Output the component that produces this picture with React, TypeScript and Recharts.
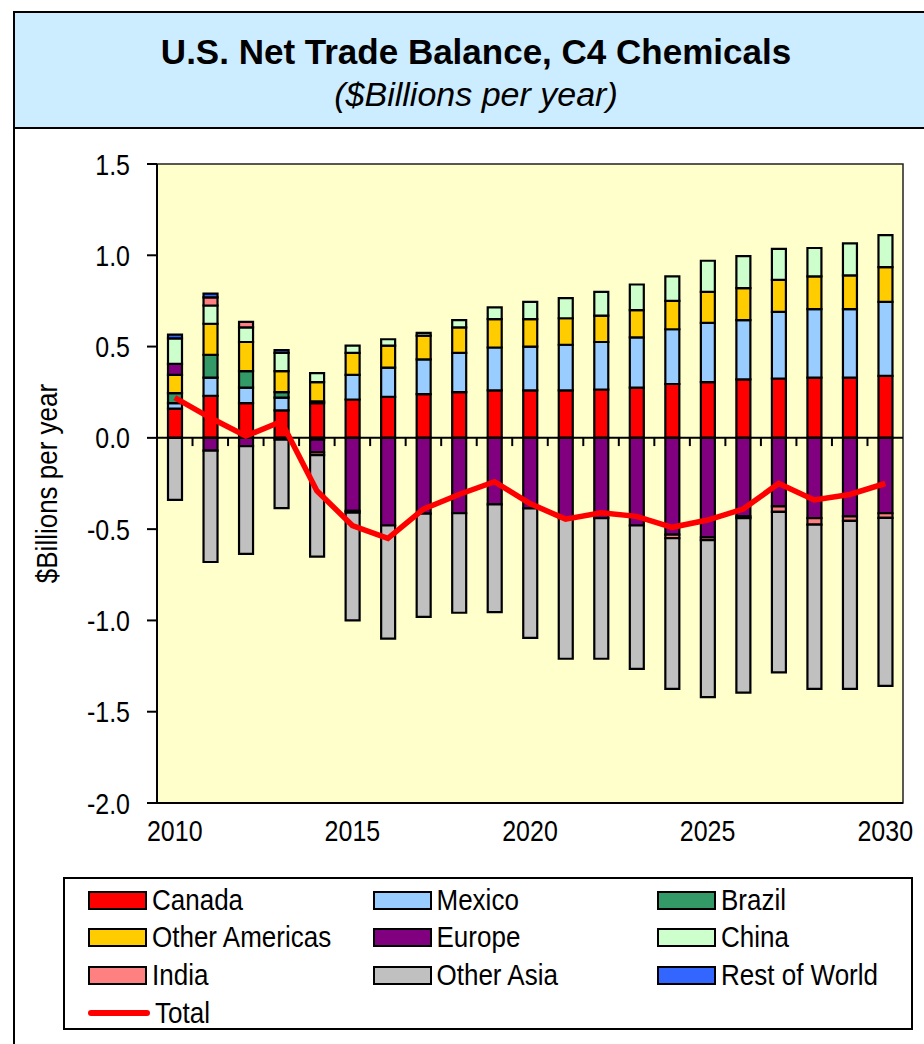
import React from "react";
import {
  ComposedChart,
  Bar,
  Line,
  XAxis,
  YAxis,
  ReferenceLine,
  ReferenceArea,
} from "recharts";

const FONT = "'Liberation Sans', Arial, sans-serif";
const STRETCH = 1.17;

const years = [
  2010, 2011, 2012, 2013, 2014, 2015, 2016, 2017, 2018, 2019, 2020, 2021, 2022,
  2023, 2024, 2025, 2026, 2027, 2028, 2029, 2030,
];
const yearTicks = [2010, 2015, 2020, 2025, 2030];
const valueTicks = [1.5, 1.0, 0.5, 0.0, -0.5, -1.0, -1.5, -2.0];

const canada = [0.16, 0.23, 0.19, 0.15, 0.19, 0.21, 0.225, 0.24, 0.25, 0.26, 0.26, 0.26, 0.265, 0.275, 0.295, 0.305, 0.32, 0.325, 0.33, 0.33, 0.34];
const mexico = [0.03, 0.1, 0.085, 0.07, 0.01, 0.135, 0.16, 0.19, 0.215, 0.235, 0.24, 0.25, 0.26, 0.275, 0.3, 0.325, 0.325, 0.365, 0.375, 0.375, 0.405];
const brazil = [0.055, 0.125, 0.09, 0.03, -0.01, 0, 0, 0, 0, 0, 0, 0, 0, 0, 0, 0, 0, 0, 0, 0, 0];
const otherAmericas = [0.1, 0.17, 0.16, 0.115, 0.105, 0.12, 0.12, 0.13, 0.14, 0.155, 0.15, 0.145, 0.145, 0.15, 0.155, 0.17, 0.175, 0.175, 0.18, 0.185, 0.19];
const europe = [0.06, -0.07, -0.045, -0.01, -0.07, -0.4, -0.48, -0.415, -0.413, -0.364, -0.386, -0.44, -0.44, -0.48, -0.53, -0.545, -0.43, -0.375, -0.44, -0.43, -0.413];
const china = [0.14, 0.1, 0.08, 0.1, 0.05, 0.04, 0.035, 0.015, 0.04, 0.065, 0.095, 0.11, 0.13, 0.14, 0.135, 0.17, 0.175, 0.17, 0.155, 0.175, 0.175];
const india = [0, 0.045, 0.03, 0, -0.015, -0.01, 0, 0, 0, 0, 0, 0, 0, 0, -0.02, -0.015, -0.01, -0.03, -0.035, -0.025, -0.025];
const otherAsia = [-0.34, -0.61, -0.59, -0.375, -0.555, -0.59, -0.62, -0.565, -0.545, -0.59, -0.71, -0.77, -0.77, -0.785, -0.825, -0.86, -0.955, -0.88, -0.9, -0.92, -0.92];
const restOfWorld = [0.02, 0.02, 0, 0.015, 0, 0, 0, 0, 0, 0, 0, 0, 0, 0, 0, 0, 0, 0, 0, 0, 0];
const total = [0.22, 0.11, 0.01, 0.09, -0.29, -0.48, -0.55, -0.39, -0.31, -0.24, -0.36, -0.445, -0.41, -0.43, -0.49, -0.45, -0.39, -0.25, -0.34, -0.31, -0.25];

const series = [
  { key: "canada", name: "Canada", color: "#FF0000", values: canada },
  { key: "mexico", name: "Mexico", color: "#99CCFF", values: mexico },
  { key: "brazil", name: "Brazil", color: "#339966", values: brazil },
  { key: "otherAmericas", name: "Other Americas", color: "#FFCC00", values: otherAmericas },
  { key: "europe", name: "Europe", color: "#800080", values: europe },
  { key: "china", name: "China", color: "#CCFFCC", values: china },
  { key: "india", name: "India", color: "#FF8080", values: india },
  { key: "otherAsia", name: "Other Asia", color: "#C0C0C0", values: otherAsia },
  { key: "restOfWorld", name: "Rest of World", color: "#3366FF", values: restOfWorld },
];

const data = years.map((year, i) => {
  const row: any = { year, total: total[i] };
  series.forEach((s) => (row[s.key] = s.values[i]));
  return row;
});

// small ticks under the zero line sit between the categories
const boundaries = years.slice(0, -1).map((y) => y + 0.5);

// the original text is a little taller than Arial, so stretch it vertically
const XTick = (props: any) => {
  const { x, y, payload } = props;
  return (
    <g transform={`translate(${x},${y}) scale(1,${STRETCH})`}>
      <text x={0} y={0} dy="0.72em" textAnchor="middle" fontSize={25} fontFamily={FONT} fill="#000">
        {payload.value}
      </text>
    </g>
  );
};

const YTick = (props: any) => {
  const { x, y, payload } = props;
  return (
    <g transform={`translate(${x},${y}) scale(1,${STRETCH})`}>
      <text x={0} y={0} dy="0.36em" textAnchor="end" fontSize={25} fontFamily={FONT} fill="#000">
        {Number(payload.value).toFixed(1)}
      </text>
    </g>
  );
};

const YLabel = (props: any) => {
  const vb = props.viewBox || { x: 0, y: 0, width: 0, height: 0 };
  const cx = vb.x - 51;
  const cy = vb.y + vb.height / 2;
  return (
    <g transform={`translate(${cx},${cy}) rotate(-90) scale(1,${STRETCH})`}>
      <text
        x={0}
        y={0}
        dy="0.36em"
        textAnchor="middle"
        fontSize={26}
        fontFamily={FONT}
        fill="#000"
      >
        $Billions per year
      </text>
    </g>
  );
};

const Swatch = ({ color, line }: { color: string; line?: boolean }) =>
  line ? (
    <div style={{ width: 62, height: 6, background: color, borderRadius: 3, marginRight: 5 }} />
  ) : (
    <div
      style={{
        width: 55,
        height: 15,
        background: color,
        border: "2px solid #000",
        marginRight: 5,
      }}
    />
  );

const App = () => {
  const legendItems = [
    ...series.map((s) => ({ name: s.name, color: s.color, line: false })),
    { name: "Total", color: "#FF0000", line: true },
  ];
  return (
    <div
      style={{
        position: "absolute",
        left: 0,
        top: 0,
        width: 924,
        height: 1044,
        overflow: "hidden",
        background: "#fff",
        fontFamily: FONT,
      }}
    >
      <div
        style={{
          position: "absolute",
          left: 13,
          top: 11,
          width: 1000,
          height: 1100,
          border: "2px solid #000",
        }}
      />
      <div
        style={{
          position: "absolute",
          left: 15,
          top: 13,
          width: 922,
          height: 114,
          background: "#CCECFF",
          borderBottom: "2px solid #000",
          textAlign: "center",
        }}
      >
        <div style={{ fontWeight: "bold", fontSize: 35, marginTop: 19, lineHeight: "40px" }}>
          U.S. Net Trade Balance, C4 Chemicals
        </div>
        <div style={{ fontStyle: "italic", fontSize: 34, lineHeight: "40px", marginTop: 2 }}>
          ($Billions per year)
        </div>
      </div>
      <div style={{ position: "absolute", left: 0, top: 130 }}>
        <ComposedChart
          width={924}
          height={720}
          data={data}
          stackOffset="sign"
          margin={{ top: 34, right: 21, bottom: 7, left: 97 }}
        >
          <ReferenceArea
            x1={2009.5}
            x2={2030.5}
            y1={-2}
            y2={1.5}
            fill="#FFFFCC"
            fillOpacity={1}
            stroke="#222"
            strokeWidth={1.5}
          />
          <XAxis
            dataKey="year"
            type="number"
            domain={[2009.5, 2030.5]}
            ticks={yearTicks}
            height={40}
            tickLine={false}
            tickSize={0}
            tickMargin={17}
            axisLine={{ stroke: "#000", strokeWidth: 2 }}
            tick={<XTick />}
          />
          <YAxis
            type="number"
            domain={[-2, 1.5]}
            ticks={valueTicks}
            width={60}
            interval={0}
            tickSize={10}
            tickMargin={17}
            axisLine={{ stroke: "#000", strokeWidth: 2 }}
            tickLine={{ stroke: "#000", strokeWidth: 2 }}
            tick={<YTick />}
            label={<YLabel />}
          />
          {series.map((s) => (
            <Bar
              key={s.key}
              dataKey={s.key}
              name={s.name}
              stackId="a"
              fill={s.color}
              stroke="#000"
              strokeWidth={2.2}
              barSize={14}
              isAnimationActive={false}
            />
          ))}
          <ReferenceLine y={0} stroke="#000" strokeWidth={2} />
          {boundaries.map((b) => (
            <ReferenceLine
              key={b}
              segment={[
                { x: b, y: 0 },
                { x: b, y: -0.045 },
              ]}
              stroke="#000"
              strokeWidth={2}
            />
          ))}
          <Line
            dataKey="total"
            name="Total"
            stroke="#FF0000"
            strokeWidth={5.5}
            dot={false}
            isAnimationActive={false}
          />
        </ComposedChart>
      </div>
      <div
        style={{
          position: "absolute",
          left: 63,
          top: 877,
          width: 846,
          height: 149,
          border: "2px solid #000",
          background: "#fff",
        }}
      >
        {legendItems.map((item, i) => (
          <div
            key={item.name}
            style={{
              position: "absolute",
              left: 23 + (i % 3) * 284.5,
              top: 4 + Math.floor(i / 3) * 37.7,
              height: 34,
              display: "flex",
              alignItems: "center",
              fontSize: 26,
              whiteSpace: "nowrap",
            }}
          >
            <Swatch color={item.color} line={item.line} />
            <span style={{ display: "inline-block", transform: `scaleY(${STRETCH})` }}>
              {item.name}
            </span>
          </div>
        ))}
      </div>
    </div>
  );
};

export default App;
